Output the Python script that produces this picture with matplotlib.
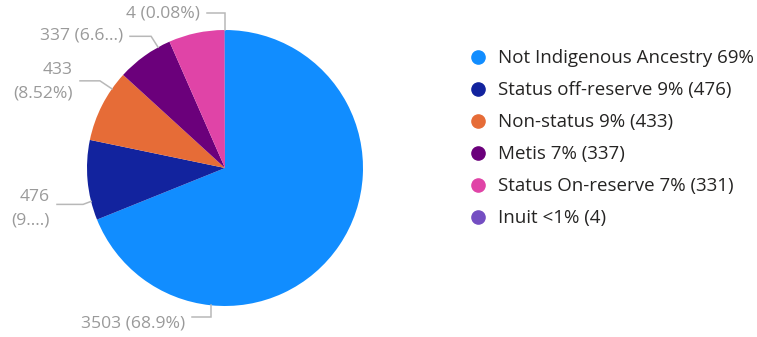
import numpy as np
import matplotlib.pyplot as plt

# slice data, clockwise from 12 o'clock
categories = ["Not Indigenous Ancestry", "Status off-reserve", "Non-status",
              "Metis", "Status On-reserve", "Inuit"]
counts = [3503, 476, 433, 337, 331, 4]
colors = ["#118DFF", "#12239E", "#E66C37", "#6B007B", "#E044A7", "#744EC2"]
legend_labels = ["Not Indigenous Ancestry 69%", "Status off-reserve 9% (476)",
                 "Non-status 9% (433)", "Metis 7% (337)",
                 "Status On-reserve 7% (331)", "Inuit <1% (4)"]

# data labels shown by the report (truncated as in the original); None = hidden
data_labels = ["3503 (68.9%)", "476\n(9....)", "433\n(8.52%)",
               "337 (6.6...)", None, "4 (0.08%)"]

W, H = 757, 337
fig = plt.figure(figsize=(W / 100, H / 100), dpi=100)

# pie placement in pixels
cx, cy, R = 225, 168, 138
ax = fig.add_axes([(cx - R) / W, (H - cy - R) / H, 2 * R / W, 2 * R / H])
ax.pie(counts, colors=colors, startangle=90, counterclock=False,
       wedgeprops=dict(linewidth=0))
ax.set_xlim(-1, 1)
ax.set_ylim(-1, 1)
ax.set_aspect("equal")
ax.axis("off")

# overlay in pixel coords for labels and legend
ov = fig.add_axes([0, 0, 1, 1], zorder=5)
ov.set_xlim(0, W)
ov.set_ylim(H, 0)
ov.axis("off")

label_font = "Open Sans"
label_color = "#9a9a9a"
line_color = "#b8b8b8"

# leader layout: anchor angle on pie edge, elbow offset, horizontal end, text y
leaders = [
    (-96, (0, 12), 192, 323),
    (194, (-8, 3), 57, 209),
    (145, (-12, -8), 80, 82),
    (119, (-7, -11), 130, 36),
    None,
    (90, (0, -17), 207, 14),
]

for text, lay in zip(data_labels, leaders):
    if text is None:
        continue
    ang, (ex, ey), xend, ty = lay
    x0 = cx + R * np.cos(np.radians(ang))
    y0 = cy - R * np.sin(np.radians(ang))
    x1, y1 = x0 + ex, y0 + ey
    ov.plot([x0, x1, xend], [y0, y1, y1], color=line_color, lw=1.1,
            solid_joinstyle="miter")
    ov.text(xend - 7, ty, text, ha="right", va="center", fontsize=12.6,
            color=label_color, family=label_font, linespacing=1.6)

# legend
for i, (lab, col) in enumerate(zip(legend_labels, colors)):
    y = 58 + i * 32
    ov.plot(478, y - 1, "o", color=col, markersize=9.5)
    ov.text(498, y, lab, ha="left", va="center", fontsize=13.5,
            color="#252423", family=label_font)

fig.savefig("out.png", dpi=100)
